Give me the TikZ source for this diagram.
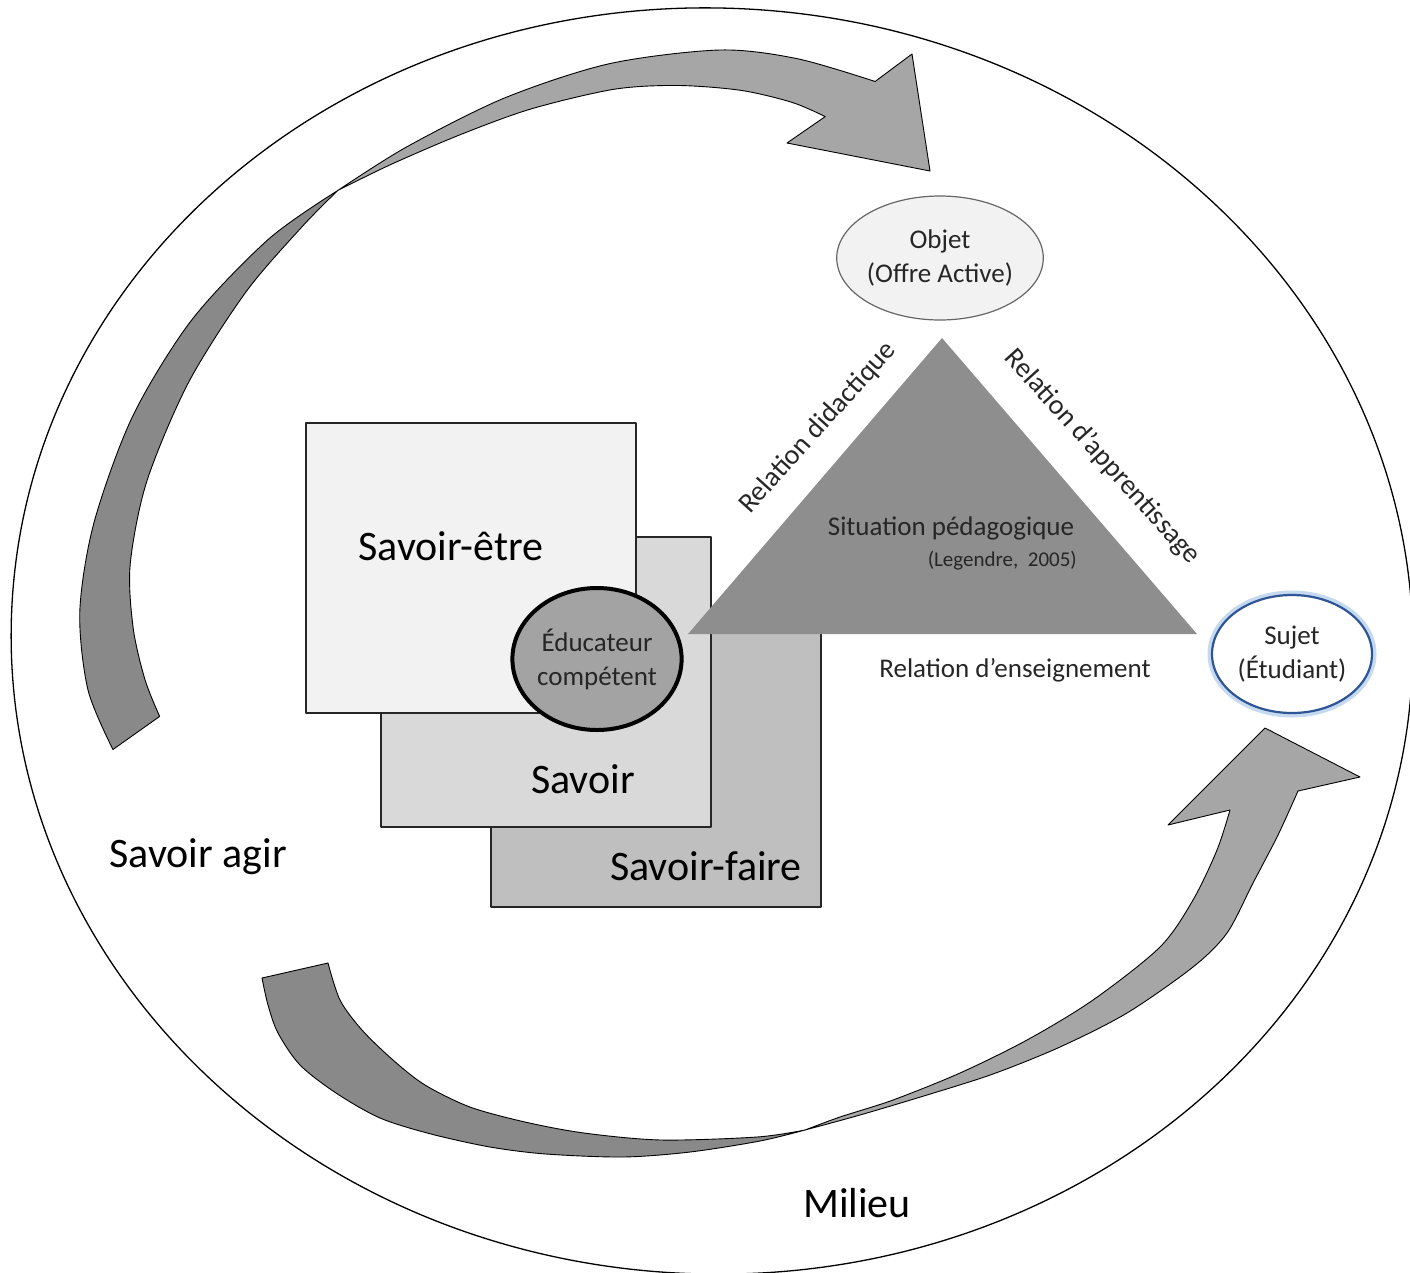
\documentclass[tikz,border=0pt]{standalone}
\usepackage{fontspec}
\setmainfont{Carlito}
\usetikzlibrary{shapes.geometric}

\definecolor{etrefill}{HTML}{F2F2F2}
\definecolor{savoirfill}{HTML}{D9D9D9}
\definecolor{fairefill}{HTML}{BFBFBF}
\definecolor{educfill}{HTML}{A3A3A3}
\definecolor{trifill}{HTML}{8E8E8E}
\definecolor{flechedark}{HTML}{898989}
\definecolor{flechelight}{HTML}{A6A6A6}
\definecolor{sujetblue}{HTML}{2F5597}
\definecolor{sujetglow}{HTML}{C5DAF0}
\definecolor{texte}{HTML}{262626}

\begin{document}
\begin{tikzpicture}[x=1pt,y=-1pt,line cap=round,line join=round,
	grand/.style={font=\fontsize{42}{50}\selectfont,anchor=base,inner sep=0pt},
	petit/.style={font=\fontsize{27}{34}\selectfont,text=texte,inner sep=0pt},
	carre/.style={draw=black!85,line width=1.5,minimum width=330,minimum height=290,inner sep=0pt},
	fleche/.style={draw=black,line width=0.9}]
	\useasboundingbox (0,0) rectangle (1410,1272);
	% milieu
	\draw[line width=1.3,rotate around={-2.5:(712,641)}] (712,641) ellipse [x radius=701,y radius=633];
	% fleche du haut (coordonnees polaires autour de son centre)
	\begin{scope}[shift={(720,690)}]
		\fill[fleche,fill=flechedark] plot[smooth] coordinates {(174.4:610) (180:632) (187:645) (195:648) (205:648) (215:645) (225:638) (232.6:629)}
			-- plot[smooth] coordinates {(232.6:629) (228:624) (220:619) (210:614) (200:610) (192:603) (186:590) (181:575) (177.3:561)} -- cycle;
		\fill[fleche,fill=flechelight] plot[smooth] coordinates {(232.6:629) (240:627) (250:630) (260:636) (270:640) (277:636) (284.3:628)}
			-- (192,-636) -- (210,-519) -- (67,-547) --
			plot[smooth] coordinates {(280.4:583) (277:592) (272:600) (266:606) (260:610) (252:611) (245:613) (238:620) (232.6:629)} -- cycle;
	\end{scope}
	% fleche du bas
	\fill[fleche,fill=flechedark] plot[smooth] coordinates {(262,978) (268,1005) (278,1033) (300,1065) (336,1093) (380,1118) (431,1134) (490,1147) (546,1154) (623,1157) (690,1152) (760,1141) (805,1130)}
		-- plot[smooth] coordinates {(805,1130) (757,1137) (661,1140) (584,1133) (525,1122) (470,1107) (425,1085) (393,1060) (362,1030) (340,1000) (328,963)} -- cycle;
	\fill[fleche,fill=flechelight] plot[smooth] coordinates {(805,1130) (860,1115) (927,1095) (993,1074) (1060,1047) (1127,1013) (1193,967) (1227,933) (1253,883) (1278,835) (1298,791)}
		-- (1360,777) -- (1265,728) -- (1168,825) --
		plot[smooth] coordinates {(1230,810) (1217,850) (1193,900) (1160,947) (1093,1000) (1027,1040) (960,1073) (893,1100) (840,1117) (805,1130)} -- cycle;
	% les savoirs
	\node[carre,fill=fairefill] (faire) at (656,762) {};
	\node[carre,fill=savoirfill] (savoir) at (546,682) {};
	\node[carre,fill=etrefill] (etre) at (471,568) {};
	\node[grand] (etretxt) at (451,560) {Savoir-être};
	\node[grand] (savoirtxt) at (583,793) {Savoir};
	\node[grand] (fairetxt) at (706,880) {Savoir-faire};
	\node[ellipse,draw=black,line width=4,fill=educfill,minimum width=163,minimum height=142,inner sep=0pt,
		petit,align=center] (educ) at (597,659) {Éducateur\\compétent};
	% situation pedagogique
	\path[fill=trifill] (942,338) coordinate (apex) -- (1197,634) coordinate (droite) -- (688,634) coordinate (gauche) -- cycle;
	\node[petit] (situation) at (951,528) {Situation pédagogique};
	\node[font=\fontsize{21}{25}\selectfont,text=texte,inner sep=0pt,anchor=base east] (legendre) at (1077,566) {(Legendre,\ \ 2005)};
	\node[petit,rotate=48,font=\fontsize{28}{34}\selectfont] (didactique) at (818,428) {Relation didactique};
	\node[petit,rotate=-48,font=\fontsize{28}{34}\selectfont] (apprentissage) at (1102,457) {Relation d'apprentissage};
	\node[petit,anchor=base] (enseignement) at (1015,677) {Relation d’enseignement};
	% objet et sujet
	\node[ellipse,draw=black!60,line width=1.2,fill=etrefill,minimum width=168,minimum height=124,inner sep=0pt,
		petit,align=center] (objet) at (940,258) {Objet\\(Offre Active)};
	\node[ellipse,draw=sujetglow,line width=9,minimum width=160,minimum height=118,inner sep=0pt] (halo) at (1292,654) {};
	\node[ellipse,draw=sujetblue,line width=2.2,fill=white,minimum width=160,minimum height=118,inner sep=0pt,
		petit,align=center] (sujet) at (1292,654) {Sujet\\(Étudiant)};
	% textes libres
	\node[grand] (agir) at (198,867) {Savoir agir};
	\node[grand] (milieu) at (857,1217) {Milieu};
\end{tikzpicture}
\end{document}
